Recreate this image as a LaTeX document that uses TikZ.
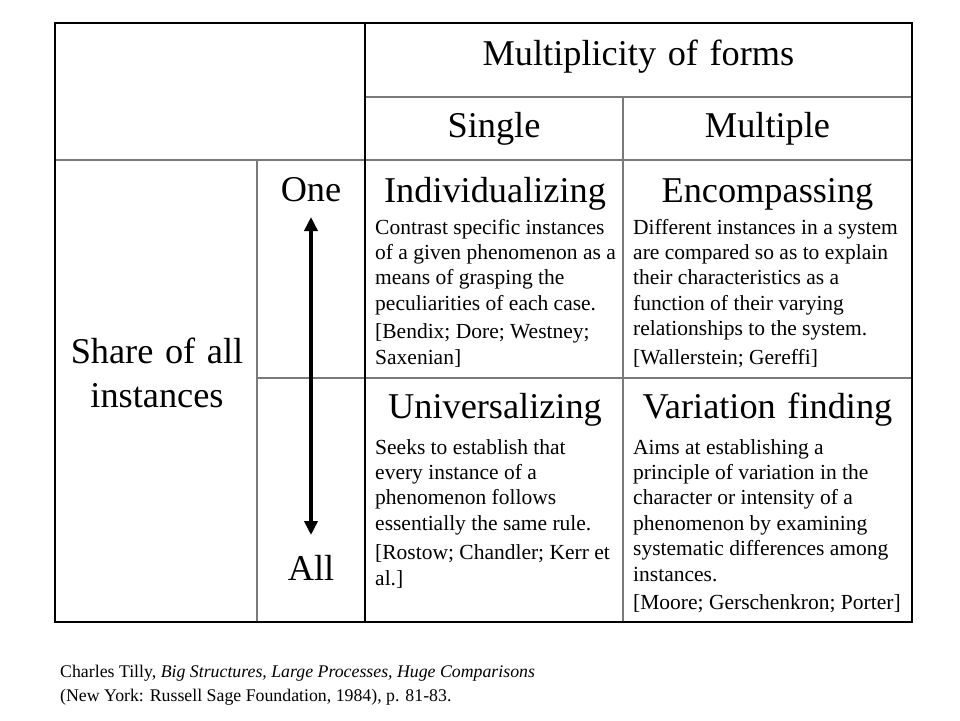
\documentclass[tikz,border=0pt]{standalone}
\usepackage{fontspec}
\setmainfont{Liberation Serif}
\usetikzlibrary{arrows.meta}
\definecolor{gridgray}{HTML}{7A7A7A}
\newcommand{\myheadfont}{\fontsize{36.3}{44}\selectfont\spaceskip=0.32em\relax}
\tikzset{
  outerborder/.style={draw=black, line width=2.6pt},
  gridline/.style={draw=gridgray, line width=1.5pt},
  darkline/.style={draw=black, line width=1.2pt},
  headtext/.style={anchor=base, inner sep=0pt, font=\myheadfont},
  bodytext/.style={anchor=base west, inner sep=0pt, font=\fontsize{21.5}{25.4}\selectfont},
  foottext/.style={anchor=base west, inner sep=0pt, font=\fontsize{17.8}{24}\selectfont},
  dblarrow/.style={line width=4pt, {Triangle[width=13pt,length=14pt]}-{Triangle[width=13pt,length=14pt]}}
}
\begin{document}
\begin{tikzpicture}[x=1pt,y=-1pt]
\useasboundingbox (0,0) rectangle (960,720);
% grid lines
\draw[gridline] (365,97) -- (912,97);
\draw[gridline] (55,160) -- (912,160);
\draw[gridline] (257,378) -- (912,378);
\draw[gridline] (257,160) -- (257,622);
\draw[gridline] (623,97) -- (623,622);
\draw[darkline] (365,23) -- (365,622);
\draw[outerborder] (55,23) rectangle (912,622);
% headers
\node[headtext] (mult) at (638.5,65) {Multiplicity of forms};
\node[headtext] (single) at (494,137) {Single};
\node[headtext] (multiple) at (767.5,137) {Multiple};
\node[headtext] (share) at (157,363) {\begin{tabular}[t]{@{}c@{}}Share of all\\[0pt] instances\end{tabular}};
\node[headtext] (one) at (311,201) {One};
\node[headtext] (all) at (311,580) {All};
% cell titles
\node[headtext] (indiv) at (495,202) {Individualizing};
\node[headtext] (encomp) at (767.5,202) {Encompassing};
\node[headtext] (univ) at (495,418) {Universalizing};
\node[headtext] (varfind) at (767.5,418) {Variation finding};
% cell bodies
\node[bodytext] (indivbody) at (375,234) {\begin{tabular}[t]{@{}l@{}}Contrast specific instances\\ of a given phenomenon as a\\ means of grasping the\\ peculiarities of each case.\\[3pt] [Bendix; Dore; Westney;\\ Saxenian]\end{tabular}};
\node[bodytext] (encompbody) at (633,234) {\begin{tabular}[t]{@{}l@{}}Different instances in a system\\ are compared so as to explain\\ their characteristics as a\\ function of their varying\\ relationships to the system.\\[3pt] [Wallerstein; Gereffi]\end{tabular}};
\node[bodytext] (univbody) at (375,454) {\begin{tabular}[t]{@{}l@{}}Seeks to establish that\\ every instance of a\\ phenomenon follows\\ essentially the same rule.\\[4pt] [Rostow; Chandler; Kerr et\\ al.]\end{tabular}};
\node[bodytext] (varbody) at (633,454) {\begin{tabular}[t]{@{}l@{}}Aims at establishing a\\ principle of variation in the\\ character or intensity of a\\ phenomenon by examining\\ systematic differences among\\ instances.\\[3pt] [Moore; Gerschenkron; Porter]\end{tabular}};
% arrow
\coordinate (arrtop) at (311,217);
\coordinate (arrbot) at (311,535);
\draw[dblarrow] (arrtop) -- (arrbot);
% footer
\node[foottext] (foot1) at (60,677) {Charles Tilly, \textit{Big Structures, Large Processes, Huge Comparisons}};
\node[foottext] (foot2) at (60,701) {(New York: Russell Sage Foundation, 1984), p. 81-83.};
\end{tikzpicture}
\end{document}
